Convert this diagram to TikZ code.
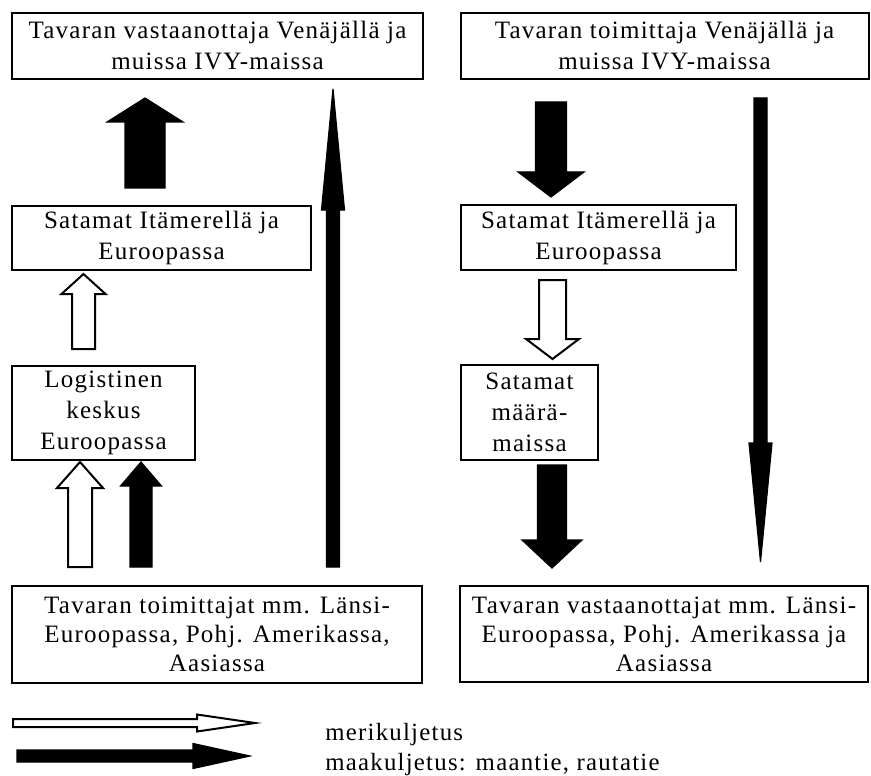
\documentclass[tikz,border=0pt]{standalone}
\usepackage{fontspec}
\setmainfont{Liberation Serif}[LetterSpace=5]

% block arrow: style, x, y tail, y head base, y tip, half shaft, half head
\newcommand{\blockarrow}[7]{%
  \draw[#1] (#2-#6,#3) -- (#2-#6,#4) -- (#2-#7,#4) -- (#2,#5)
    -- (#2+#7,#4) -- (#2+#6,#4) -- (#2+#6,#3) -- cycle;}
% same, lying to the right (legend)
\newcommand{\legendarrow}[7]{%
  \draw[#1] (#3,#2-#6) -- (#4,#2-#6) -- (#4,#2-#7) -- (#5,#2)
    -- (#4,#2+#7) -- (#4,#2+#6) -- (#3,#2+#6) -- cycle;}

\tikzset{
  box/.style={draw, line width=1pt, align=center, inner sep=0pt,
    font=\fontsize{12.5}{15.5}\selectfont},
  land/.style={fill=black, draw=black, line width=0.6pt, line join=miter},
  sea/.style={fill=white, draw=black, line width=1pt, line join=miter},
}

\begin{document}
\begin{tikzpicture}[x=0.5pt, y=-0.5pt]
  \useasboundingbox (0,0) rectangle (871,775);

  % left side: Venaja receives
  \node[box, minimum width=205.5pt, minimum height=33pt] (recvRU) at (217.5,46)
    {Tavaran vastaanottaja Venäjällä ja\\muissa IVY-maissa};
  \node[box, minimum width=149.5pt, minimum height=32pt] (portsL) at (161.5,238)
    {Satamat Itämerellä ja\\Euroopassa};
  \node[box, minimum width=91.5pt, minimum height=47pt] (logi) at (103.5,413)
    {Logistinen\\keskus\\Euroopassa};
  \node[box, minimum width=205pt, minimum height=48.5pt,
        font=\fontsize{12.5}{14.5}\selectfont] (supW) at (217,634.5)
    {Tavaran toimittajat mm. Länsi-\\Euroopassa, Pohj. Amerikassa,\\Aasiassa};

  % right side: Venaja supplies
  \node[box, minimum width=204pt, minimum height=33pt] (supRU) at (664.5,46)
    {Tavaran toimittaja Venäjällä ja\\muissa IVY-maissa};
  \node[box, minimum width=137.5pt, minimum height=32.5pt] (portsR) at (598.5,237.5)
    {Satamat Itämerellä ja\\Euroopassa};
  \node[box, minimum width=68.5pt, minimum height=47.5pt] (destports) at (529.5,412.5)
    {Satamat\\määrä-\\maissa};
  \node[box, minimum width=204pt, minimum height=48pt,
        font=\fontsize{12.5}{14.5}\selectfont] (recvW) at (664,634)
    {Tavaran vastaanottajat mm. Länsi-\\Euroopassa, Pohj. Amerikassa ja\\Aasiassa};

  % arrows, left
  \blockarrow{land}{145}{188}{122}{98}{20}{38}
  \blockarrow{land}{333}{567}{210}{89}{6.5}{11.5}
  \blockarrow{sea}{83.5}{349}{294}{274}{11.5}{22}
  \blockarrow{sea}{80}{567}{488}{462}{12}{23}
  \blockarrow{land}{141}{567}{486}{462}{11}{20.5}

  % arrows, right
  \blockarrow{land}{551}{102}{172}{197}{15.5}{33}
  \blockarrow{land}{760.5}{98}{443}{562}{6.5}{11.5}
  \blockarrow{sea}{552.5}{280}{339}{359}{13.5}{26.5}
  \blockarrow{land}{552}{465}{540}{568}{14.5}{30}

  % legend
  \legendarrow{sea}{723}{13}{197}{255}{4}{8.5}
  \legendarrow{land}{756}{17}{193}{250}{6}{12.5}
  \node[anchor=base west, inner sep=0pt, font=\fontsize{12.4}{14}\selectfont]
    (seaTxt) at (325,740) {merikuljetus};
  \node[anchor=base west, inner sep=0pt, font=\fontsize{12.4}{14}\selectfont]
    (landTxt) at (325,770) {maakuljetus: maantie, rautatie};
\end{tikzpicture}
\end{document}
